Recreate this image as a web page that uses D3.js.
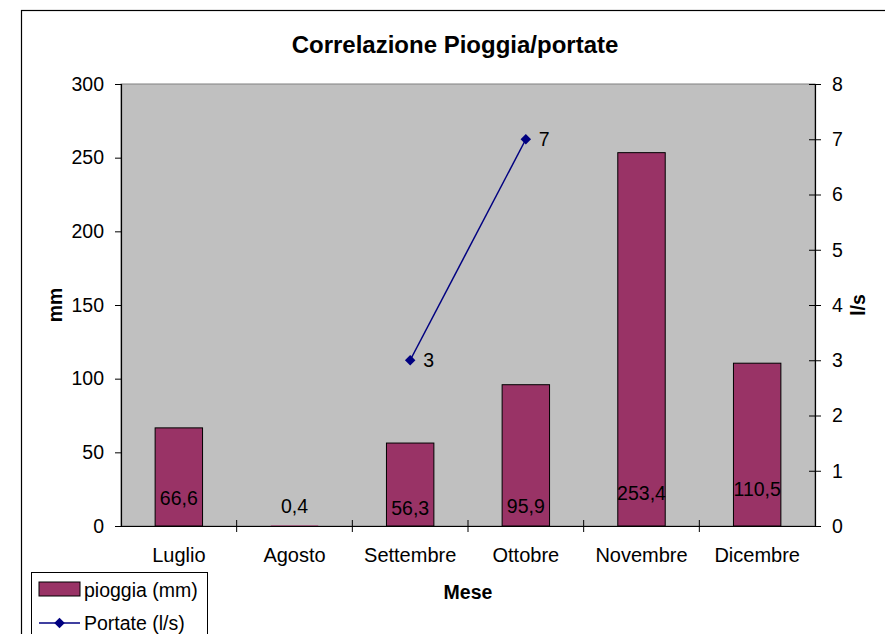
<!DOCTYPE html>
<html>
<head>
<meta charset="utf-8">
<script src="https://cdn.jsdelivr.net/npm/d3@7"></script>
<style>
  body { margin: 0; background: #fff; }
  text { font-family: "Liberation Sans", Arial, sans-serif; fill: #000; }
</style>
</head>
<body>
<div id="chart"></div>
<script>
// data
let months = ['Luglio', 'Agosto', 'Settembre', 'Ottobre', 'Novembre', 'Dicembre'];
let pioggia = [66.6, 0.4, 56.3, 95.9, 253.4, 110.5];
let portate = [null, null, 3, 7, null, null];
let leftTicks = [0, 50, 100, 150, 200, 250, 300];
let rightTicks = [0, 1, 2, 3, 4, 5, 6, 7, 8];

// label nudges (px above the zero line), just to mimic excel's placement
let labelLift = [28, 20, 18, 20, 33, 37];

let W = 885, H = 634;
let plot = { left: 121, right: 815, top: 84, bottom: 526 };
let fs = '19.5px';

let svg = d3.select('#chart').append('svg')
  .attr('width', W).attr('height', H);

// outer chart frame (clipped at right/bottom like the screenshot)
svg.append('rect')
  .attr('x', 21.5).attr('y', 10.5)
  .attr('width', 900).attr('height', 700)
  .attr('fill', '#fff').attr('stroke', '#000').attr('stroke-width', 1.2);

let x = d3.scaleBand().domain(months).range([plot.left, plot.right]);
let yL = d3.scaleLinear().domain([0, 300]).range([plot.bottom, plot.top]);
let yR = d3.scaleLinear().domain([0, 8]).range([plot.bottom, plot.top]);

// plot area
svg.append('rect')
  .attr('x', plot.left).attr('y', plot.top)
  .attr('width', plot.right - plot.left).attr('height', plot.bottom - plot.top)
  .attr('fill', '#c0c0c0').attr('stroke', '#808080').attr('stroke-width', 1);

// bars
let barW = x.bandwidth() * 0.41;
svg.selectAll('.bar')
  .data(pioggia)
  .enter().append('rect')
  .attr('class', 'bar')
  .attr('x', (d, i) => x(months[i]) + x.bandwidth() / 2 - barW / 2)
  .attr('y', d => yL(d))
  .attr('width', barW)
  .attr('height', d => yL(0) - yL(d))
  .attr('fill', '#993366')
  .attr('stroke', d => (yL(0) - yL(d)) < 1 ? 'none' : '#000')
  .attr('stroke-width', 1);

// bar labels
svg.selectAll('.bar-label')
  .data(pioggia)
  .enter().append('text')
  .attr('class', 'bar-label')
  .attr('x', (d, i) => x(months[i]) + x.bandwidth() / 2)
  .attr('y', (d, i) => yL(0) - labelLift[i] + 7)
  .attr('text-anchor', 'middle')
  .style('font-size', fs)
  .text(d => d3.format('.1f')(d).replace('.', ','));

// axes
let axisL = svg.append('g')
  .attr('transform', `translate(${plot.left},0)`)
  .call(d3.axisLeft(yL).tickValues(leftTicks).tickSize(6).tickPadding(11));
let axisR = svg.append('g')
  .attr('transform', `translate(${plot.right},0)`)
  .call(d3.axisRight(yR).tickValues(rightTicks).tickSize(6).tickPadding(11));
let axisB = svg.append('g')
  .attr('transform', `translate(0,${plot.bottom})`)
  .call(d3.axisBottom(x).tickSize(0).tickPadding(22));

[axisL, axisR, axisB].forEach(a => {
  a.select('.domain').attr('stroke', '#000').attr('stroke-width', 1.2);
  a.selectAll('.tick line').attr('stroke', '#000');
  a.selectAll('.tick text').style('font-size', fs)
    .style('font-family', '"Liberation Sans", Arial, sans-serif');
});
axisB.selectAll('.tick text').style('font-size', '20px');
// right ticks cross the axis
axisR.selectAll('.tick line').attr('x1', -6);

// category separators crossing the bottom axis
svg.selectAll('.cat-tick')
  .data(months.slice(1))
  .enter().append('line')
  .attr('x1', d => x(d)).attr('x2', d => x(d))
  .attr('y1', plot.bottom - 6).attr('y2', plot.bottom + 6)
  .attr('stroke', '#000');

// portate line
let pts = portate.map((v, i) => ({ m: months[i], v: v })).filter(d => d.v !== null);
let line = d3.line()
  .x(d => x(d.m) + x.bandwidth() / 2)
  .y(d => yR(d.v));
svg.append('path')
  .datum(pts)
  .attr('d', line)
  .attr('fill', 'none')
  .attr('stroke', '#000080').attr('stroke-width', 1.5);

svg.selectAll('.pt')
  .data(pts)
  .enter().append('path')
  .attr('d', d3.symbol().type(d3.symbolDiamond2).size(70))
  .attr('transform', d => `translate(${x(d.m) + x.bandwidth() / 2},${yR(d.v)})`)
  .attr('fill', '#000080');

svg.selectAll('.pt-label')
  .data(pts)
  .enter().append('text')
  .attr('x', d => x(d.m) + x.bandwidth() / 2 + 13)
  .attr('y', d => yR(d.v) + 7)
  .style('font-size', fs)
  .text(d => d.v);

// titles
svg.append('text')
  .attr('x', 455).attr('y', 53)
  .attr('text-anchor', 'middle')
  .style('font-size', '24px').style('font-weight', 'bold')
  .text('Correlazione Pioggia/portate');

svg.append('text')
  .attr('transform', 'translate(62,305) rotate(-90)')
  .attr('text-anchor', 'middle')
  .style('font-size', fs).style('font-weight', 'bold')
  .text('mm');

svg.append('text')
  .attr('transform', 'translate(865,305) rotate(-90)')
  .attr('text-anchor', 'middle')
  .style('font-size', fs).style('font-weight', 'bold')
  .text('l/s');

svg.append('text')
  .attr('x', 468).attr('y', 599)
  .attr('text-anchor', 'middle')
  .style('font-size', fs).style('font-weight', 'bold')
  .text('Mese');

// legend
let legend = svg.append('g').attr('transform', 'translate(31,572)');
legend.append('rect')
  .attr('x', 0.5).attr('y', 0.5).attr('width', 176).attr('height', 80)
  .attr('fill', '#fff').attr('stroke', '#000');
legend.append('rect')
  .attr('x', 8).attr('y', 10).attr('width', 41).attr('height', 14)
  .attr('fill', '#993366').attr('stroke', '#000');
legend.append('text').attr('x', 53).attr('y', 25)
  .style('font-size', fs).text('pioggia (mm)');
legend.append('line')
  .attr('x1', 8).attr('x2', 49).attr('y1', 51).attr('y2', 51)
  .attr('stroke', '#000080').attr('stroke-width', 1.5);
legend.append('path')
  .attr('d', d3.symbol().type(d3.symbolDiamond2).size(70))
  .attr('transform', 'translate(28.5,51)')
  .attr('fill', '#000080');
legend.append('text').attr('x', 53).attr('y', 58)
  .style('font-size', fs).text('Portate (l/s)');
</script>
</body>
</html>
